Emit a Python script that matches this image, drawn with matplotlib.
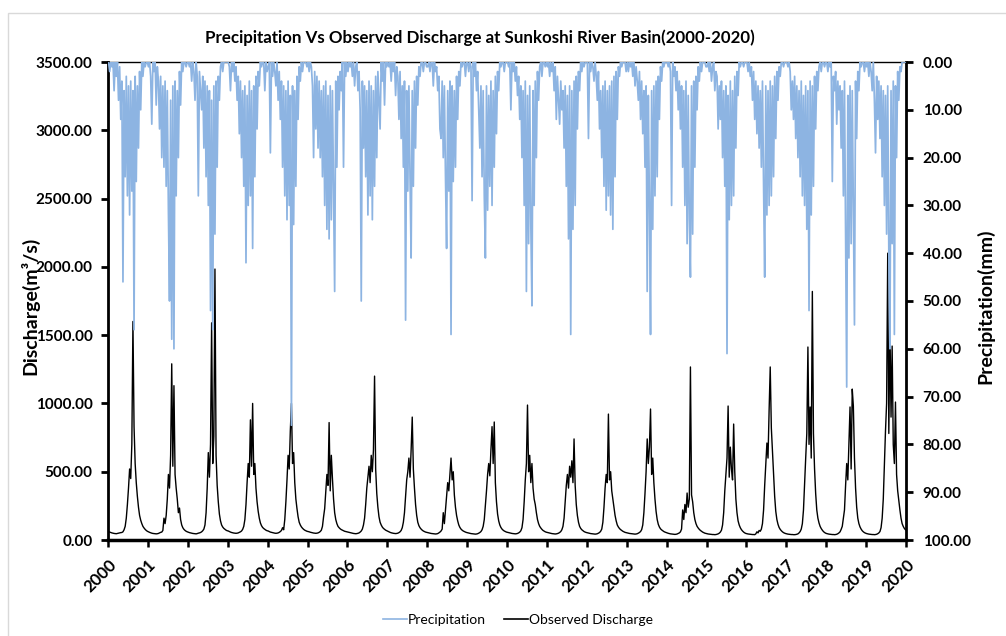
import matplotlib
matplotlib.use("Agg")
import matplotlib.pyplot as plt
from matplotlib.patches import Rectangle
from matplotlib.lines import Line2D
import numpy as np

plt.rcParams["font.family"] = ["Lato", "DejaVu Sans"]

# ten-day (dekad) readings, 36 per year
years = list(range(2000, 2020))

# observed discharge (m3/s)
q_2000 = [62, 58, 55, 52, 50, 48, 47, 46, 48, 50, 52, 54, 55, 60, 75, 100, 160, 260, 380, 520, 450, 700, 1600, 830, 560, 420, 320, 240, 180, 145, 120, 100, 88, 78, 70, 64]
q_2001 = [60, 56, 53, 50, 48, 47, 46, 45, 46, 48, 52, 56, 58, 70, 160, 120, 180, 300, 480, 380, 620, 1290, 540, 1130, 480, 380, 300, 200, 234, 150, 110, 90, 78, 70, 64, 60]
q_2002 = [57, 54, 52, 50, 48, 47, 46, 45, 47, 50, 52, 55, 60, 68, 80, 110, 200, 380, 640, 460, 700, 1590, 560, 760, 1984, 620, 400, 280, 190, 140, 110, 95, 85, 78, 72, 68]
q_2003 = [66, 62, 58, 55, 53, 51, 50, 49, 50, 52, 56, 60, 66, 78, 100, 150, 260, 420, 560, 460, 880, 540, 1000, 480, 560, 380, 280, 210, 160, 125, 105, 92, 84, 78, 72, 68]
q_2004 = [66, 62, 58, 56, 54, 52, 50, 49, 50, 52, 56, 62, 70, 90, 75, 150, 280, 440, 620, 520, 800, 1000, 560, 640, 420, 300, 230, 170, 130, 110, 96, 86, 78, 72, 68, 64]
q_2005 = [62, 60, 57, 55, 53, 51, 50, 49, 50, 52, 56, 62, 72, 100, 170, 230, 350, 480, 400, 860, 360, 620, 450, 300, 200, 150, 120, 100, 90, 82, 76, 72, 68, 64, 62, 60]
q_2006 = [58, 56, 54, 52, 50, 48, 47, 46, 47, 49, 52, 58, 66, 80, 110, 160, 260, 380, 460, 540, 420, 620, 500, 660, 1200, 520, 340, 240, 170, 130, 110, 95, 85, 78, 72, 68]
q_2007 = [64, 60, 56, 53, 51, 49, 48, 47, 48, 50, 54, 60, 70, 90, 130, 200, 320, 440, 500, 600, 460, 660, 900, 520, 380, 260, 180, 130, 105, 90, 80, 72, 66, 62, 58, 56]
q_2008 = [54, 52, 50, 48, 47, 46, 45, 44, 45, 47, 52, 58, 66, 80, 200, 120, 220, 330, 420, 360, 480, 600, 440, 500, 330, 240, 180, 140, 110, 92, 80, 72, 66, 62, 58, 55]
q_2009 = [53, 51, 49, 47, 46, 45, 44, 43, 44, 46, 50, 55, 62, 75, 100, 150, 250, 360, 480, 560, 470, 660, 830, 560, 864, 420, 280, 190, 140, 110, 92, 80, 72, 66, 62, 58]
q_2010 = [56, 54, 52, 50, 48, 47, 46, 45, 46, 48, 52, 58, 68, 90, 150, 280, 440, 560, 988, 500, 620, 420, 560, 380, 300, 260, 200, 150, 120, 100, 88, 78, 70, 65, 60, 57]
q_2011 = [55, 53, 51, 49, 47, 46, 45, 44, 45, 47, 50, 55, 62, 75, 100, 160, 280, 400, 480, 380, 540, 460, 580, 420, 740, 400, 260, 180, 130, 100, 85, 75, 68, 62, 58, 55]
q_2012 = [53, 51, 49, 47, 46, 45, 44, 43, 44, 46, 50, 55, 64, 80, 130, 240, 380, 480, 420, 922, 440, 500, 360, 300, 240, 180, 140, 110, 95, 84, 76, 70, 64, 60, 56, 54]
q_2013 = [52, 50, 48, 47, 46, 45, 44, 43, 44, 46, 50, 55, 62, 76, 110, 200, 340, 500, 740, 560, 680, 959, 480, 600, 420, 300, 210, 150, 115, 95, 82, 74, 68, 62, 58, 55]
q_2014 = [52, 49, 47, 45, 44, 43, 42, 41, 42, 44, 48, 52, 60, 80, 220, 150, 260, 200, 344, 240, 300, 1267, 330, 280, 200, 150, 120, 100, 88, 78, 70, 64, 58, 54, 50, 48]
q_2015 = [46, 44, 43, 42, 41, 40, 40, 39, 40, 42, 45, 50, 58, 72, 110, 200, 360, 480, 600, 981, 460, 680, 520, 440, 849, 500, 300, 200, 140, 110, 90, 76, 66, 58, 52, 48]
q_2016 = [46, 44, 43, 42, 41, 40, 40, 39, 45, 60, 52, 70, 64, 80, 120, 220, 400, 560, 710, 600, 952, 1267, 820, 650, 480, 320, 210, 150, 115, 92, 78, 68, 60, 54, 50, 47]
q_2017 = [45, 43, 42, 41, 40, 40, 39, 39, 40, 42, 45, 52, 62, 80, 120, 220, 420, 600, 780, 1413, 700, 974, 600, 1820, 780, 520, 340, 220, 160, 125, 100, 84, 72, 62, 55, 50]
q_2018 = [47, 45, 43, 42, 41, 40, 40, 39, 40, 42, 46, 52, 60, 78, 100, 160, 220, 400, 560, 440, 710, 974, 520, 1105, 981, 600, 380, 240, 160, 120, 96, 80, 68, 60, 54, 50]
q_2019 = [47, 45, 43, 42, 41, 40, 40, 39, 40, 42, 46, 52, 62, 90, 160, 300, 560, 800, 1000, 2100, 780, 1560, 900, 1420, 700, 560, 1010, 480, 360, 290, 220, 160, 120, 100, 85, 75]

# precipitation (mm)
p_2000 = [0, 2, 0, 1, 0, 6, 0, 3, 0, 8, 1, 12, 4, 46, 6, 24, 3, 28, 5, 32, 4, 27, 6, 56, 3, 25, 5, 18, 2, 10, 0, 3, 0, 1, 0, 0]
p_2001 = [1, 0, 3, 13, 0, 2, 0, 9, 1, 4, 14, 3, 20, 5, 22, 4, 26, 6, 31, 50, 8, 58, 5, 60, 4, 28, 6, 20, 2, 9, 0, 2, 0, 0, 1, 0]
p_2002 = [0, 1, 0, 4, 0, 2, 8, 0, 3, 28, 2, 6, 10, 3, 18, 4, 24, 5, 30, 6, 52, 8, 56, 5, 36, 4, 22, 3, 8, 1, 0, 2, 0, 0, 0, 0]
p_2003 = [0, 1, 6, 0, 2, 0, 4, 1, 8, 3, 15, 4, 20, 6, 26, 5, 42, 7, 30, 4, 28, 6, 39, 5, 24, 3, 14, 2, 5, 0, 1, 0, 0, 6, 0, 2]
p_2004 = [1, 0, 19, 0, 3, 0, 2, 5, 0, 8, 2, 12, 4, 22, 5, 28, 6, 33, 4, 30, 7, 76, 5, 34, 6, 26, 3, 12, 1, 4, 0, 2, 0, 0, 0, 1]
p_2005 = [0, 2, 0, 1, 5, 20, 2, 14, 3, 18, 4, 20, 6, 24, 5, 30, 4, 35, 7, 37, 5, 33, 6, 28, 48, 4, 22, 3, 10, 2, 6, 0, 22, 0, 3, 0]
p_2006 = [2, 0, 1, 0, 3, 0, 5, 1, 0, 6, 2, 10, 50, 4, 18, 5, 24, 6, 32, 4, 28, 5, 33, 6, 26, 3, 20, 2, 8, 14, 0, 4, 0, 9, 0, 1]
p_2007 = [0, 1, 0, 4, 0, 2, 0, 7, 1, 3, 12, 2, 16, 5, 22, 4, 54, 6, 27, 5, 24, 41, 6, 26, 4, 18, 3, 9, 1, 3, 0, 0, 2, 0, 0, 1]
p_2008 = [1, 0, 2, 0, 0, 5, 0, 2, 1, 6, 3, 14, 16, 4, 20, 5, 24, 39, 6, 27, 4, 57, 5, 25, 6, 22, 3, 12, 2, 5, 0, 1, 0, 0, 3, 0]
p_2009 = [0, 2, 0, 1, 29, 0, 3, 0, 6, 2, 10, 18, 5, 24, 6, 28, 41, 5, 31, 7, 26, 4, 30, 6, 22, 3, 15, 2, 6, 0, 1, 0, 0, 2, 0, 0]
p_2010 = [0, 1, 0, 10, 0, 2, 0, 4, 1, 7, 3, 12, 5, 20, 6, 30, 4, 48, 7, 38, 5, 34, 51, 6, 30, 4, 20, 2, 8, 1, 0, 3, 0, 0, 1, 0]
p_2011 = [1, 0, 3, 0, 2, 0, 6, 1, 12, 3, 8, 13, 4, 10, 6, 18, 5, 26, 7, 37, 5, 57, 6, 35, 4, 30, 3, 14, 2, 6, 0, 2, 0, 1, 0, 0]
p_2012 = [0, 16, 0, 2, 0, 1, 4, 0, 3, 8, 2, 14, 6, 20, 5, 26, 4, 31, 6, 28, 5, 32, 4, 35, 3, 24, 2, 12, 1, 3, 0, 1, 0, 0, 0, 2]
p_2013 = [0, 2, 0, 1, 0, 3, 0, 5, 1, 4, 8, 2, 12, 4, 15, 6, 22, 5, 48, 7, 30, 57, 6, 35, 5, 28, 4, 24, 3, 12, 1, 4, 0, 1, 0, 0]
p_2014 = [0, 1, 0, 2, 30, 0, 3, 1, 6, 2, 10, 4, 14, 5, 22, 6, 30, 4, 38, 7, 33, 45, 5, 36, 4, 22, 3, 10, 1, 4, 0, 2, 0, 0, 0, 1]
p_2015 = [1, 0, 2, 0, 4, 1, 0, 6, 2, 3, 14, 5, 12, 4, 20, 6, 26, 5, 61, 7, 33, 4, 30, 6, 28, 3, 18, 2, 7, 0, 1, 0, 0, 1, 0, 0]
p_2016 = [0, 2, 0, 3, 1, 8, 2, 12, 4, 15, 5, 18, 6, 22, 4, 26, 45, 5, 32, 6, 30, 4, 28, 5, 24, 3, 16, 2, 8, 1, 3, 0, 0, 1, 0, 0]
p_2017 = [0, 1, 0, 2, 10, 4, 12, 3, 16, 5, 20, 6, 24, 4, 28, 7, 30, 5, 35, 6, 52, 4, 32, 5, 26, 3, 14, 2, 6, 1, 0, 2, 0, 0, 1, 0]
p_2018 = [0, 2, 0, 1, 0, 25, 3, 6, 2, 13, 4, 10, 5, 18, 6, 28, 4, 36, 68, 7, 41, 5, 38, 6, 30, 55, 4, 16, 2, 6, 0, 1, 0, 0, 2, 0]
p_2019 = [1, 0, 3, 0, 2, 6, 0, 8, 19, 3, 12, 4, 16, 5, 24, 6, 30, 7, 36, 5, 40, 60, 6, 38, 4, 57, 5, 20, 2, 8, 1, 2, 0, 0, 0, 0]

discharge_years = [q_2000, q_2001, q_2002, q_2003, q_2004, q_2005, q_2006, q_2007, q_2008, q_2009,
                   q_2010, q_2011, q_2012, q_2013, q_2014, q_2015, q_2016, q_2017, q_2018, q_2019]
precip_years = [p_2000, p_2001, p_2002, p_2003, p_2004, p_2005, p_2006, p_2007, p_2008, p_2009,
                p_2010, p_2011, p_2012, p_2013, p_2014, p_2015, p_2016, p_2017, p_2018, p_2019]

# time axis in decimal years, sample at the middle of each dekad
time = np.concatenate([yr + (np.arange(36) + 0.5) / 36 for yr in years])
discharge = np.concatenate(discharge_years)
precip = np.concatenate(precip_years)

fig = plt.figure(figsize=(10.06, 6.36), dpi=100)
ax = fig.add_axes([108 / 1006, 1 - 540 / 636, 798 / 1006, 478 / 636])

ax.plot(time, discharge, color="black", linewidth=1.0, zorder=2)
ax.set_xlim(2000, 2020)
ax.set_ylim(0, 3500)
ax.set_yticks(np.arange(0, 3501, 500))
ax.set_yticklabels([f"{v:.2f}" for v in np.arange(0, 3501, 500)])
ax.set_xticks(range(2000, 2021))
ax.set_xticklabels([str(y) for y in range(2000, 2021)], rotation=45, ha="right",
                   va="top", rotation_mode="anchor")

ax2 = ax.twinx()
ax2.plot(time, precip, color="#8DB4E2", linewidth=1.25, zorder=3)
ax2.set_ylim(100, 0)
ax2.set_yticks(np.arange(0, 101, 10))
ax2.set_yticklabels([f"{v:.2f}" for v in np.arange(0, 101, 10)])

for a in (ax, ax2):
    for spine in a.spines.values():
        spine.set_color("black")
ax.spines["left"].set_linewidth(2)
ax.spines["bottom"].set_linewidth(2.5)
ax.spines["right"].set_visible(False)
ax.spines["top"].set_visible(False)
ax2.spines["left"].set_visible(False)
ax2.spines["bottom"].set_visible(False)
ax2.spines["right"].set_linewidth(2)
ax2.spines["top"].set_linewidth(1)

ax.tick_params(axis="y", direction="out", length=5, width=2, pad=6, labelsize=11)
ax.tick_params(axis="x", direction="out", length=5, width=1.8, pad=7, labelsize=12)
ax2.tick_params(axis="y", direction="out", length=5, width=2, pad=7, labelsize=11)
for lbl in ax.get_xticklabels() + ax.get_yticklabels() + ax2.get_yticklabels():
    lbl.set_fontweight("bold")

fig.text(30 / 1006, 1 - 306 / 636, "Discharge(m³/s)", rotation=90, ha="center",
         va="center", fontsize=14, fontweight="bold")
fig.text(985 / 1006, 1 - 306 / 636, "Precipitation(mm)", rotation=90, ha="center",
         va="center", fontsize=14, fontweight="bold")
fig.text(480 / 1006, 1 - 38 / 636,
         "Precipitation Vs Observed Discharge at Sunkoshi River Basin(2000-2020)",
         ha="center", va="center", fontsize=12.2, fontweight="bold")

handles = [Line2D([], [], color="#8DB4E2", linewidth=1.2),
           Line2D([], [], color="black", linewidth=1.2)]
fig.legend(handles, ["Precipitation", "Observed Discharge"], loc="center",
           bbox_to_anchor=(518 / 1006, 1 - 620 / 636), ncol=2, frameon=False,
           fontsize=10, handlelength=1.7, handletextpad=0.1, columnspacing=1.3)

fig.patches.append(Rectangle((8 / 1006, -0.1), 1.2, 1.1 - 13 / 636, transform=fig.transFigure,
                             fill=False, edgecolor="#D9D9D9", linewidth=1))

fig.savefig("out.png", dpi=100)
